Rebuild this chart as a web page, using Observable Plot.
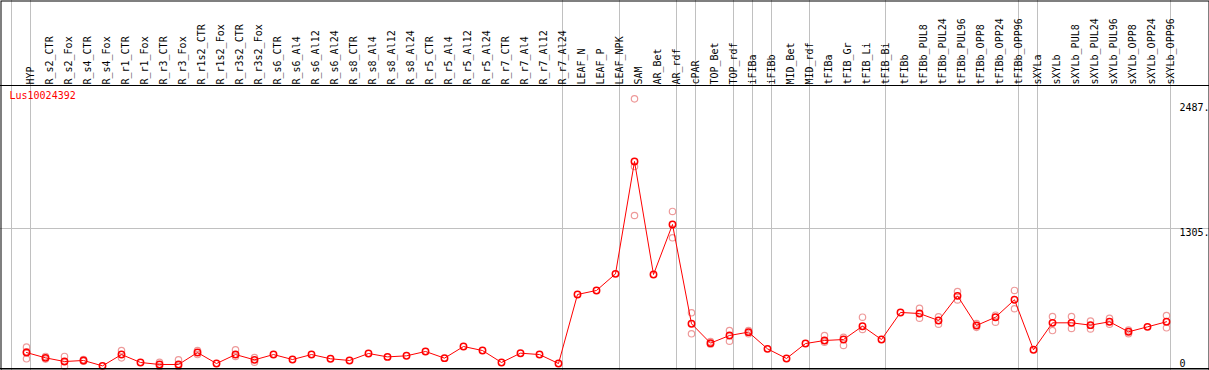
<!DOCTYPE html>
<html>
<head>
<meta charset="utf-8">
<script src="https://cdn.jsdelivr.net/npm/d3@7"></script>
<script src="https://cdn.jsdelivr.net/npm/@observablehq/plot@0.6"></script>
<style>
  html, body { margin: 0; padding: 0; background: #fff; }
  svg { display: block; }
</style>
</head>
<body>
<div id="chart"></div>
<script>
const geneName = "Lus10024392";

const labels = ["HYP","R_s2_CTR","R_s2_Fox","R_s4_CTR","R_s4_Fox","R_r1_CTR","R_r1_Fox","R_r3_CTR","R_r3_Fox",
  "R_r1s2_CTR","R_r1s2_Fox","R_r3s2_CTR","R_r3s2_Fox","R_s6_CTR","R_s6_Al4","R_s6_Al12","R_s6_Al24",
  "R_s8_CTR","R_s8_Al4","R_s8_Al12","R_s8_Al24","R_r5_CTR","R_r5_Al4","R_r5_Al12","R_r5_Al24",
  "R_r7_CTR","R_r7_Al4","R_r7_Al12","R_r7_Al24","LEAF_N","LEAF_P","LEAF_NPK","SAM","AR_Bet","AR_rdf",
  "cPAR","TOP_Bet","TOP_rdf","iFIBa","iFIBb","MID_Bet","MID_rdf","tFIBa","tFIB_Gr","tFIB_Li","tFIB_Bi",
  "tFIBb","tFIBb_PUL8","tFIBb_PUL24","tFIBb_PUL96","tFIBb_OPP8","tFIBb_OPP24","tFIBb_OPP96",
  "sXYLa","sXYLb","sXYLb_PUL8","sXYLb_PUL24","sXYLb_PUL96","sXYLb_OPP8","sXYLb_OPP24","sXYLb_OPP96"];

const means = [132,82,47,57,6,113,38,19,19,132,28,113,63,113,66,113,73,57,123,91,101,142,79,189,151,38,126,113,28,
  681,719,876,1939,870,1343,404,221,293,325,167,76,217,246,255,381,255,511,501,435,668,388,466,631,
  158,413,413,391,423,328,375,423];

const replicates = [[183,140,73],[95,70],[95,3],[65,50],[],[151,82],[],[40,0],[63,0],[151,113],[],[158,95],[85,40],
  [],[],[],[],[],[],[],[],[],[],[],[],[],[],[],[],
  [],[],[],[2531,1891,1428],[],[1466,1217],[508,309],[235,210],[340,239],[340,310],[],[],[],[293,230],[275,199],[466,350],[],
  [],[551,457],[470,400],[709,630],[405,370],[485,419],[719,546],
  [],[473,340],[473,360],[430,355],[455,400],[345,310],[],[482,366]];

const groupStarts = [0,1,29,32,35,36,38,39,40,42,46,53,54,61];
const yTicks = [2487, 1305];
const yZero = [0];
const gridValues = [1305];

const meanData = means.map((v, i) => ({i, v}));
const repData = replicates.flatMap((r, i) => r.map(v => ({i, v})));
const labelData = labels.map((name, i) => ({i, name}));

const font = "DejaVu Sans Mono";

const plot = Plot.plot({
  width: 1209,
  height: 370,
  marginTop: 0, marginBottom: 0, marginLeft: 0, marginRight: 0,
  style: {fontFamily: font, fontSize: "10px", background: "#fff"},
  x: {domain: [0, 60], range: [26, 1166], axis: null},
  y: {domain: [0, 2487], range: [366, 103], axis: null},
  marks: [
    Plot.ruleY(gridValues, {stroke: "#c0c0c0", strokeWidth: 1}),
    Plot.ruleX(groupStarts, {dx: -15, stroke: "#c0c0c0", strokeWidth: 1}),
    Plot.text(labelData, {x: "i", text: "name", frameAnchor: "top", dy: 84, rotate: -90,
      textAnchor: "start", fill: "black", fontFamily: font, fontSize: 10}),
    Plot.text([geneName], {frameAnchor: "top-left", dx: 9, dy: 91, lineAnchor: "top",
      textAnchor: "start", fill: "red", fontFamily: font, fontSize: 10}),
    Plot.text(yTicks, {y: d => d, text: d => d + ".", frameAnchor: "right", dx: -30, textAnchor: "start",
      lineAnchor: "top", fill: "black", fontFamily: font, fontSize: 10}),
    Plot.text(yZero, {y: d => d, text: d => String(d), frameAnchor: "right", dx: -30, textAnchor: "start",
      lineAnchor: "bottom", fill: "black", fontFamily: font, fontSize: 10}),
    Plot.dot(repData, {x: "i", y: "v", r: 3.2, stroke: "#ee9a9a", strokeWidth: 1.2, fill: "none"}),
    Plot.line(meanData, {x: "i", y: "v", stroke: "red", strokeWidth: 1}),
    Plot.dot(meanData, {x: "i", y: "v", r: 3.2, stroke: "red", strokeWidth: 1.5, fill: "none"}),
    Plot.frame({stroke: "black", inset: 0.5})
  ]
});

const svg = d3.select(plot);
svg.append("line")
  .attr("x1", 0).attr("x2", 1209)
  .attr("y1", 85.5).attr("y2", 85.5)
  .attr("stroke", "black").attr("stroke-width", 1);
svg.append("line")
  .attr("x1", 0).attr("x2", 1209)
  .attr("y1", 368.5).attr("y2", 368.5)
  .attr("stroke", "black").attr("stroke-width", 1);

document.getElementById("chart").appendChild(plot);
</script>
</body>
</html>
